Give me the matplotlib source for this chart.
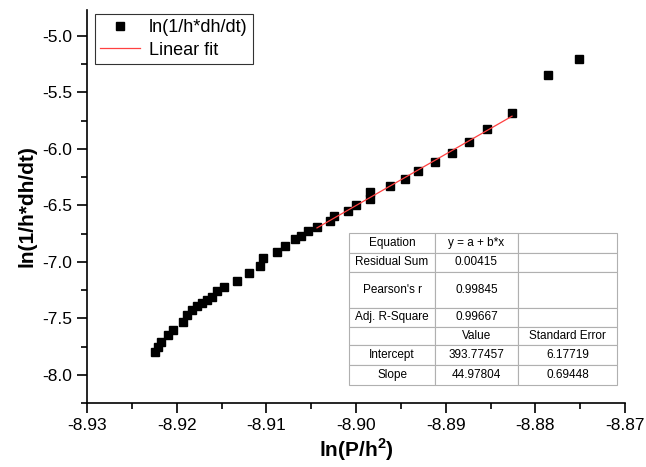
import numpy as np
import matplotlib.pyplot as plt
from matplotlib.ticker import MultipleLocator

plt.rcParams['font.family'] = ['Liberation Sans', 'DejaVu Sans']
plt.rcParams['mathtext.fontset'] = 'custom'
plt.rcParams['mathtext.bf'] = 'Liberation Sans:bold'

# data
x = [-8.92242, -8.92208, -8.92175, -8.92097, -8.92041, -8.91929, -8.91885,
     -8.91829, -8.91773, -8.91718, -8.91662, -8.91606, -8.91550, -8.91472,
     -8.91327, -8.91193, -8.91071, -8.91037, -8.90881, -8.90792, -8.90680,
     -8.90613, -8.90535, -8.90435, -8.90290, -8.90245, -8.90089, -8.90000,
     -8.89844, -8.89844, -8.89621, -8.89454, -8.89309, -8.89119, -8.88930,
     -8.88740, -8.88539, -8.88260, -8.87859, -8.87513]
y = [-7.796, -7.751, -7.707, -7.645, -7.601, -7.530, -7.467, -7.423, -7.388,
     -7.361, -7.334, -7.308, -7.263, -7.219, -7.166, -7.095, -7.033, -6.970,
     -6.917, -6.864, -6.802, -6.775, -6.731, -6.695, -6.642, -6.598, -6.553,
     -6.500, -6.447, -6.385, -6.331, -6.269, -6.198, -6.118, -6.038, -5.941,
     -5.826, -5.684, -5.346, -5.204]

# points used in the linear fit
fit_lo, fit_hi = 23, 37

table_rows = [
    ["Equation", "y = a + b*x", ""],
    ["Residual Sum", "0.00415", ""],
    ["Pearson's r", "0.99845", ""],
    ["Adj. R-Square", "0.99667", ""],
    ["", "Value", "Standard Error"],
    ["Intercept", "393.77457", "6.17719"],
    ["Slope", "44.97804", "0.69448"],
]
row_h = [20, 19, 36, 19, 18, 20, 20]
col_w = [86, 83, 99]

x = np.array(x)
y = np.array(y)

fig = plt.figure(figsize=(6.46, 4.67), dpi=100)
ax = fig.add_axes([0.1347, 0.137, 0.8328, 0.842])

ax.plot(x, y, 's', color='black', markersize=6, label='ln(1/h*dh/dt)', zorder=3)

b, a = np.polyfit(x[fit_lo:fit_hi + 1], y[fit_lo:fit_hi + 1], 1)
xf = np.array([x[fit_lo], x[fit_hi]])
ax.plot(xf, a + b * xf, '-', color='#ff4040', lw=0.9, label='Linear fit', zorder=4)

ax.set_xlim(-8.93, -8.87)
ax.set_ylim(-8.25, -4.77)
ax.xaxis.set_major_locator(MultipleLocator(0.01))
ax.xaxis.set_minor_locator(MultipleLocator(0.005))
ax.yaxis.set_major_locator(MultipleLocator(0.5))
ax.yaxis.set_minor_locator(MultipleLocator(0.25))
ax.xaxis.set_major_formatter(plt.FormatStrFormatter('%.2f'))
ax.yaxis.set_major_formatter(plt.FormatStrFormatter('%.1f'))

for s in ['top', 'right']:
    ax.spines[s].set_visible(False)
for s in ['left', 'bottom']:
    ax.spines[s].set_linewidth(1.2)
ax.tick_params(which='major', direction='out', length=7, width=1.2, labelsize=12.5)
ax.tick_params(which='minor', direction='out', length=4, width=1.2)

ax.set_xlabel(r'ln(P/h$^\mathbf{2}$)', fontsize=15, fontweight='bold', labelpad=3)
ax.set_ylabel('ln(1/h*dh/dt)', fontsize=15, fontweight='bold', labelpad=4)

leg = ax.legend(loc='upper left', bbox_to_anchor=(0.014, 0.99), fontsize=13,
                frameon=True, fancybox=False, edgecolor='black',
                handlelength=2.2, borderpad=0.3, labelspacing=0.3,
                handletextpad=0.5, borderaxespad=0.0)
leg.get_frame().set_linewidth(0.8)

tab = ax.table(cellText=table_rows, cellLoc='center',
               bbox=[0.487, 0.046, 0.498, 0.387])
tab.auto_set_font_size(False)
tab.set_fontsize(8.5)
for (r, c), cell in tab.get_celld().items():
    cell.set_height(row_h[r])
    cell.set_width(col_w[c])
    cell.set_edgecolor('#b0b0b0')
    cell.set_linewidth(0.8)
    cell.PAD = 0.02

fig.savefig('out.png', dpi=100)
